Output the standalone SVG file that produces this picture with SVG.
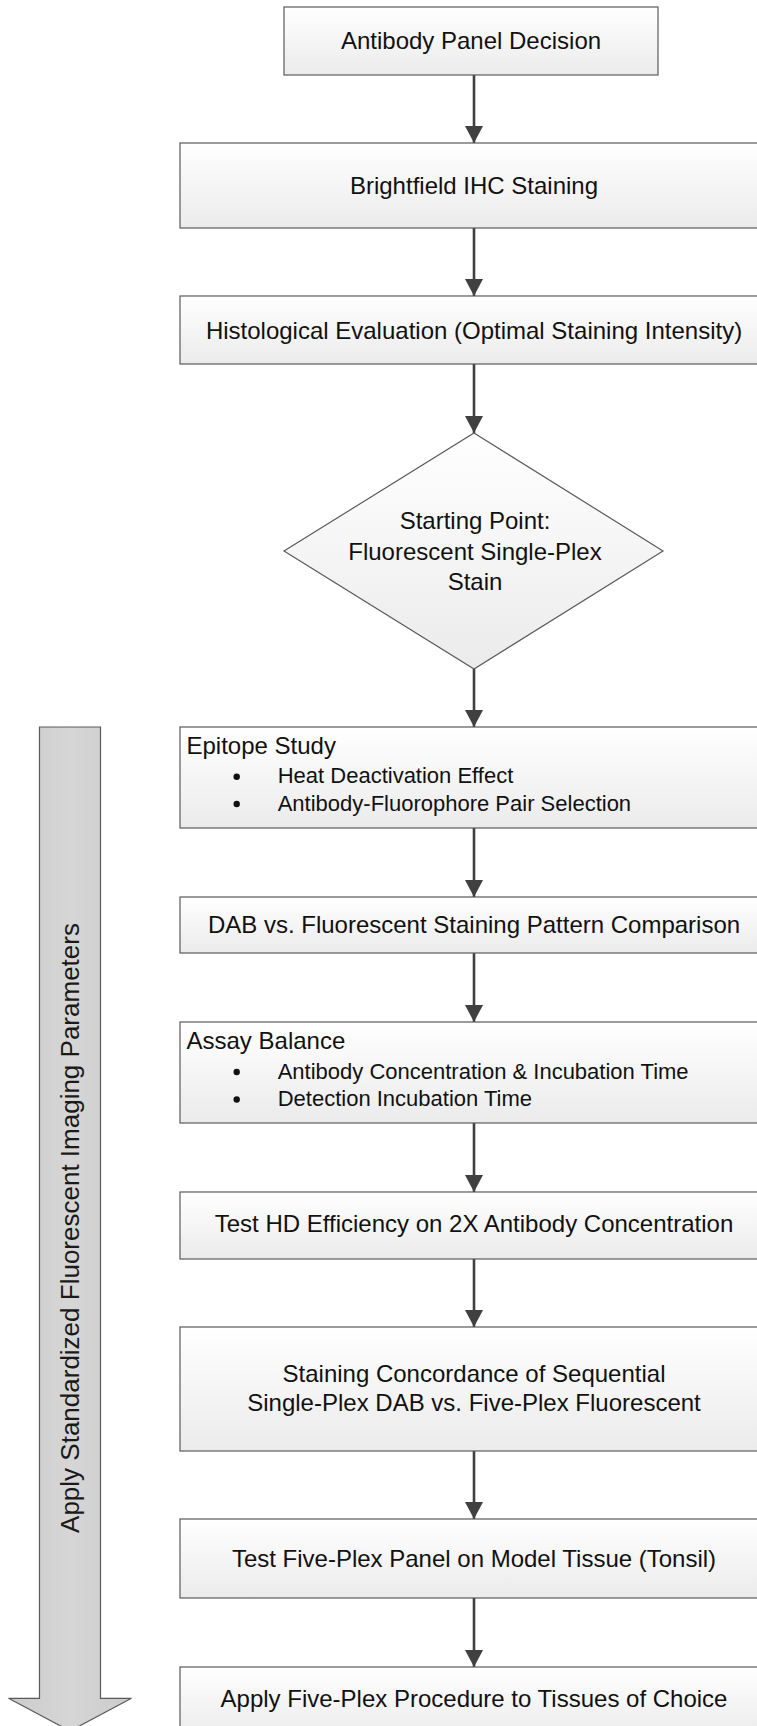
<svg xmlns="http://www.w3.org/2000/svg" width="757" height="1726" viewBox="0 0 757 1726">
  <defs>
    <linearGradient id="boxFill" x1="0" y1="0" x2="0" y2="1">
      <stop offset="0" stop-color="#ffffff"/>
      <stop offset="1" stop-color="#ebebeb"/>
    </linearGradient>
    <linearGradient id="bandFill" x1="0" y1="0" x2="1" y2="0">
      <stop offset="0" stop-color="#cbcbcb"/>
      <stop offset="0.5" stop-color="#d6d6d6"/>
      <stop offset="1" stop-color="#cbcbcb"/>
    </linearGradient>
    <marker id="head" viewBox="0 0 17 18" refX="17" refY="9" markerWidth="17" markerHeight="18" markerUnits="userSpaceOnUse" orient="auto">
      <path d="M0,0 L17,9 L0,18 Z" fill="#404040"/>
    </marker>
  </defs>
  <style>
    .box { fill: url(#boxFill); stroke: #5a5a5a; stroke-width: 1.2; }
    .lbl { font-family: "Liberation Sans", Arial, sans-serif; font-size: 24px; fill: #111; }
    .mid { text-anchor: middle; }
    .sub { font-size: 22px; }
    .bul { fill: #111; }
    .link { stroke: #404040; stroke-width: 2.6; fill: none; marker-end: url(#head); }
    .band { fill: url(#bandFill); stroke: #5a5a5a; stroke-width: 1.2; }
    .bandtxt { font-family: "Liberation Sans", Arial, sans-serif; font-size: 26px; fill: #1a1a1a; text-anchor: middle; }
  </style>

  <rect width="757" height="1726" fill="#ffffff"/>

  <!-- side band: applies to every stage below the starting point -->
  <g id="imaging-band">
    <polygon class="band" points="39.5,727 100.5,727 100.5,1698.3 131.5,1698.3 70,1731 8.5,1698.3 39.5,1698.3"/>
    <text class="bandtxt" transform="translate(79,1228) rotate(-90)">Apply Standardized Fluorescent Imaging Parameters</text>
  </g>

  <!-- connectors -->
  <g id="connectors">
    <line class="link" x1="474" y1="75" x2="474" y2="143"/>
    <line class="link" x1="474" y1="228" x2="474" y2="296"/>
    <line class="link" x1="474" y1="364" x2="474" y2="433"/>
    <line class="link" x1="474" y1="669" x2="474" y2="727"/>
    <line class="link" x1="474" y1="828" x2="474" y2="897"/>
    <line class="link" x1="474" y1="953" x2="474" y2="1022"/>
    <line class="link" x1="474" y1="1123" x2="474" y2="1192"/>
    <line class="link" x1="474" y1="1259" x2="474" y2="1327"/>
    <line class="link" x1="474" y1="1451" x2="474" y2="1519"/>
    <line class="link" x1="474" y1="1598" x2="474" y2="1667"/>
  </g>

  <g id="panel-decision">
    <rect class="box" x="284" y="7" width="374" height="68"/>
    <text class="lbl mid" x="471" y="49">Antibody Panel Decision</text>
  </g>

  <g id="brightfield-ihc">
    <rect class="box" x="180" y="143" width="588" height="85"/>
    <text class="lbl mid" x="474" y="193.5">Brightfield IHC Staining</text>
  </g>

  <g id="histological-evaluation">
    <rect class="box" x="180" y="296" width="588" height="68"/>
    <text class="lbl mid" x="474" y="338.5">Histological Evaluation (Optimal Staining Intensity)</text>
  </g>

  <g id="starting-point">
    <polygon class="box" points="474,433 663,551 474,669 284,551"/>
    <text class="lbl mid" x="475" y="529">Starting Point:</text>
    <text class="lbl mid" x="475" y="560">Fluorescent Single-Plex</text>
    <text class="lbl mid" x="475" y="590">Stain</text>
  </g>

  <g id="epitope-study">
    <rect class="box" x="180" y="727" width="588" height="101"/>
    <text class="lbl" x="186.5" y="754">Epitope Study</text>
    <circle class="bul" cx="236.7" cy="776.8" r="3.2"/>
    <text class="lbl sub" x="277.7" y="783.3">Heat Deactivation Effect</text>
    <circle class="bul" cx="236.7" cy="804" r="3.2"/>
    <text class="lbl sub" x="277.7" y="810.5">Antibody-Fluorophore Pair Selection</text>
  </g>

  <g id="pattern-comparison">
    <rect class="box" x="180" y="897" width="588" height="56"/>
    <text class="lbl mid" x="474" y="932.7">DAB vs. Fluorescent Staining Pattern Comparison</text>
  </g>

  <g id="assay-balance">
    <rect class="box" x="180" y="1022" width="588" height="101"/>
    <text class="lbl" x="186.5" y="1049">Assay Balance</text>
    <circle class="bul" cx="236.7" cy="1072" r="3.2"/>
    <text class="lbl sub" x="277.7" y="1078.5">Antibody Concentration &amp; Incubation Time</text>
    <circle class="bul" cx="236.7" cy="1099.5" r="3.2"/>
    <text class="lbl sub" x="277.7" y="1106">Detection Incubation Time</text>
  </g>

  <g id="hd-efficiency">
    <rect class="box" x="180" y="1192" width="588" height="67"/>
    <text class="lbl mid" x="474" y="1231.7">Test HD Efficiency on 2X Antibody Concentration</text>
  </g>

  <g id="staining-concordance">
    <rect class="box" x="180" y="1327" width="588" height="124"/>
    <text class="lbl mid" x="474" y="1381.7">Staining Concordance of Sequential</text>
    <text class="lbl mid" x="474" y="1411">Single-Plex DAB vs. Five-Plex Fluorescent</text>
  </g>

  <g id="model-tissue">
    <rect class="box" x="180" y="1519" width="588" height="79"/>
    <text class="lbl mid" x="474" y="1566.7">Test Five-Plex Panel on Model Tissue (Tonsil)</text>
  </g>

  <g id="tissues-of-choice">
    <rect class="box" x="180" y="1667" width="588" height="70"/>
    <text class="lbl mid" x="474" y="1707">Apply Five-Plex Procedure to Tissues of Choice</text>
  </g>
</svg>
